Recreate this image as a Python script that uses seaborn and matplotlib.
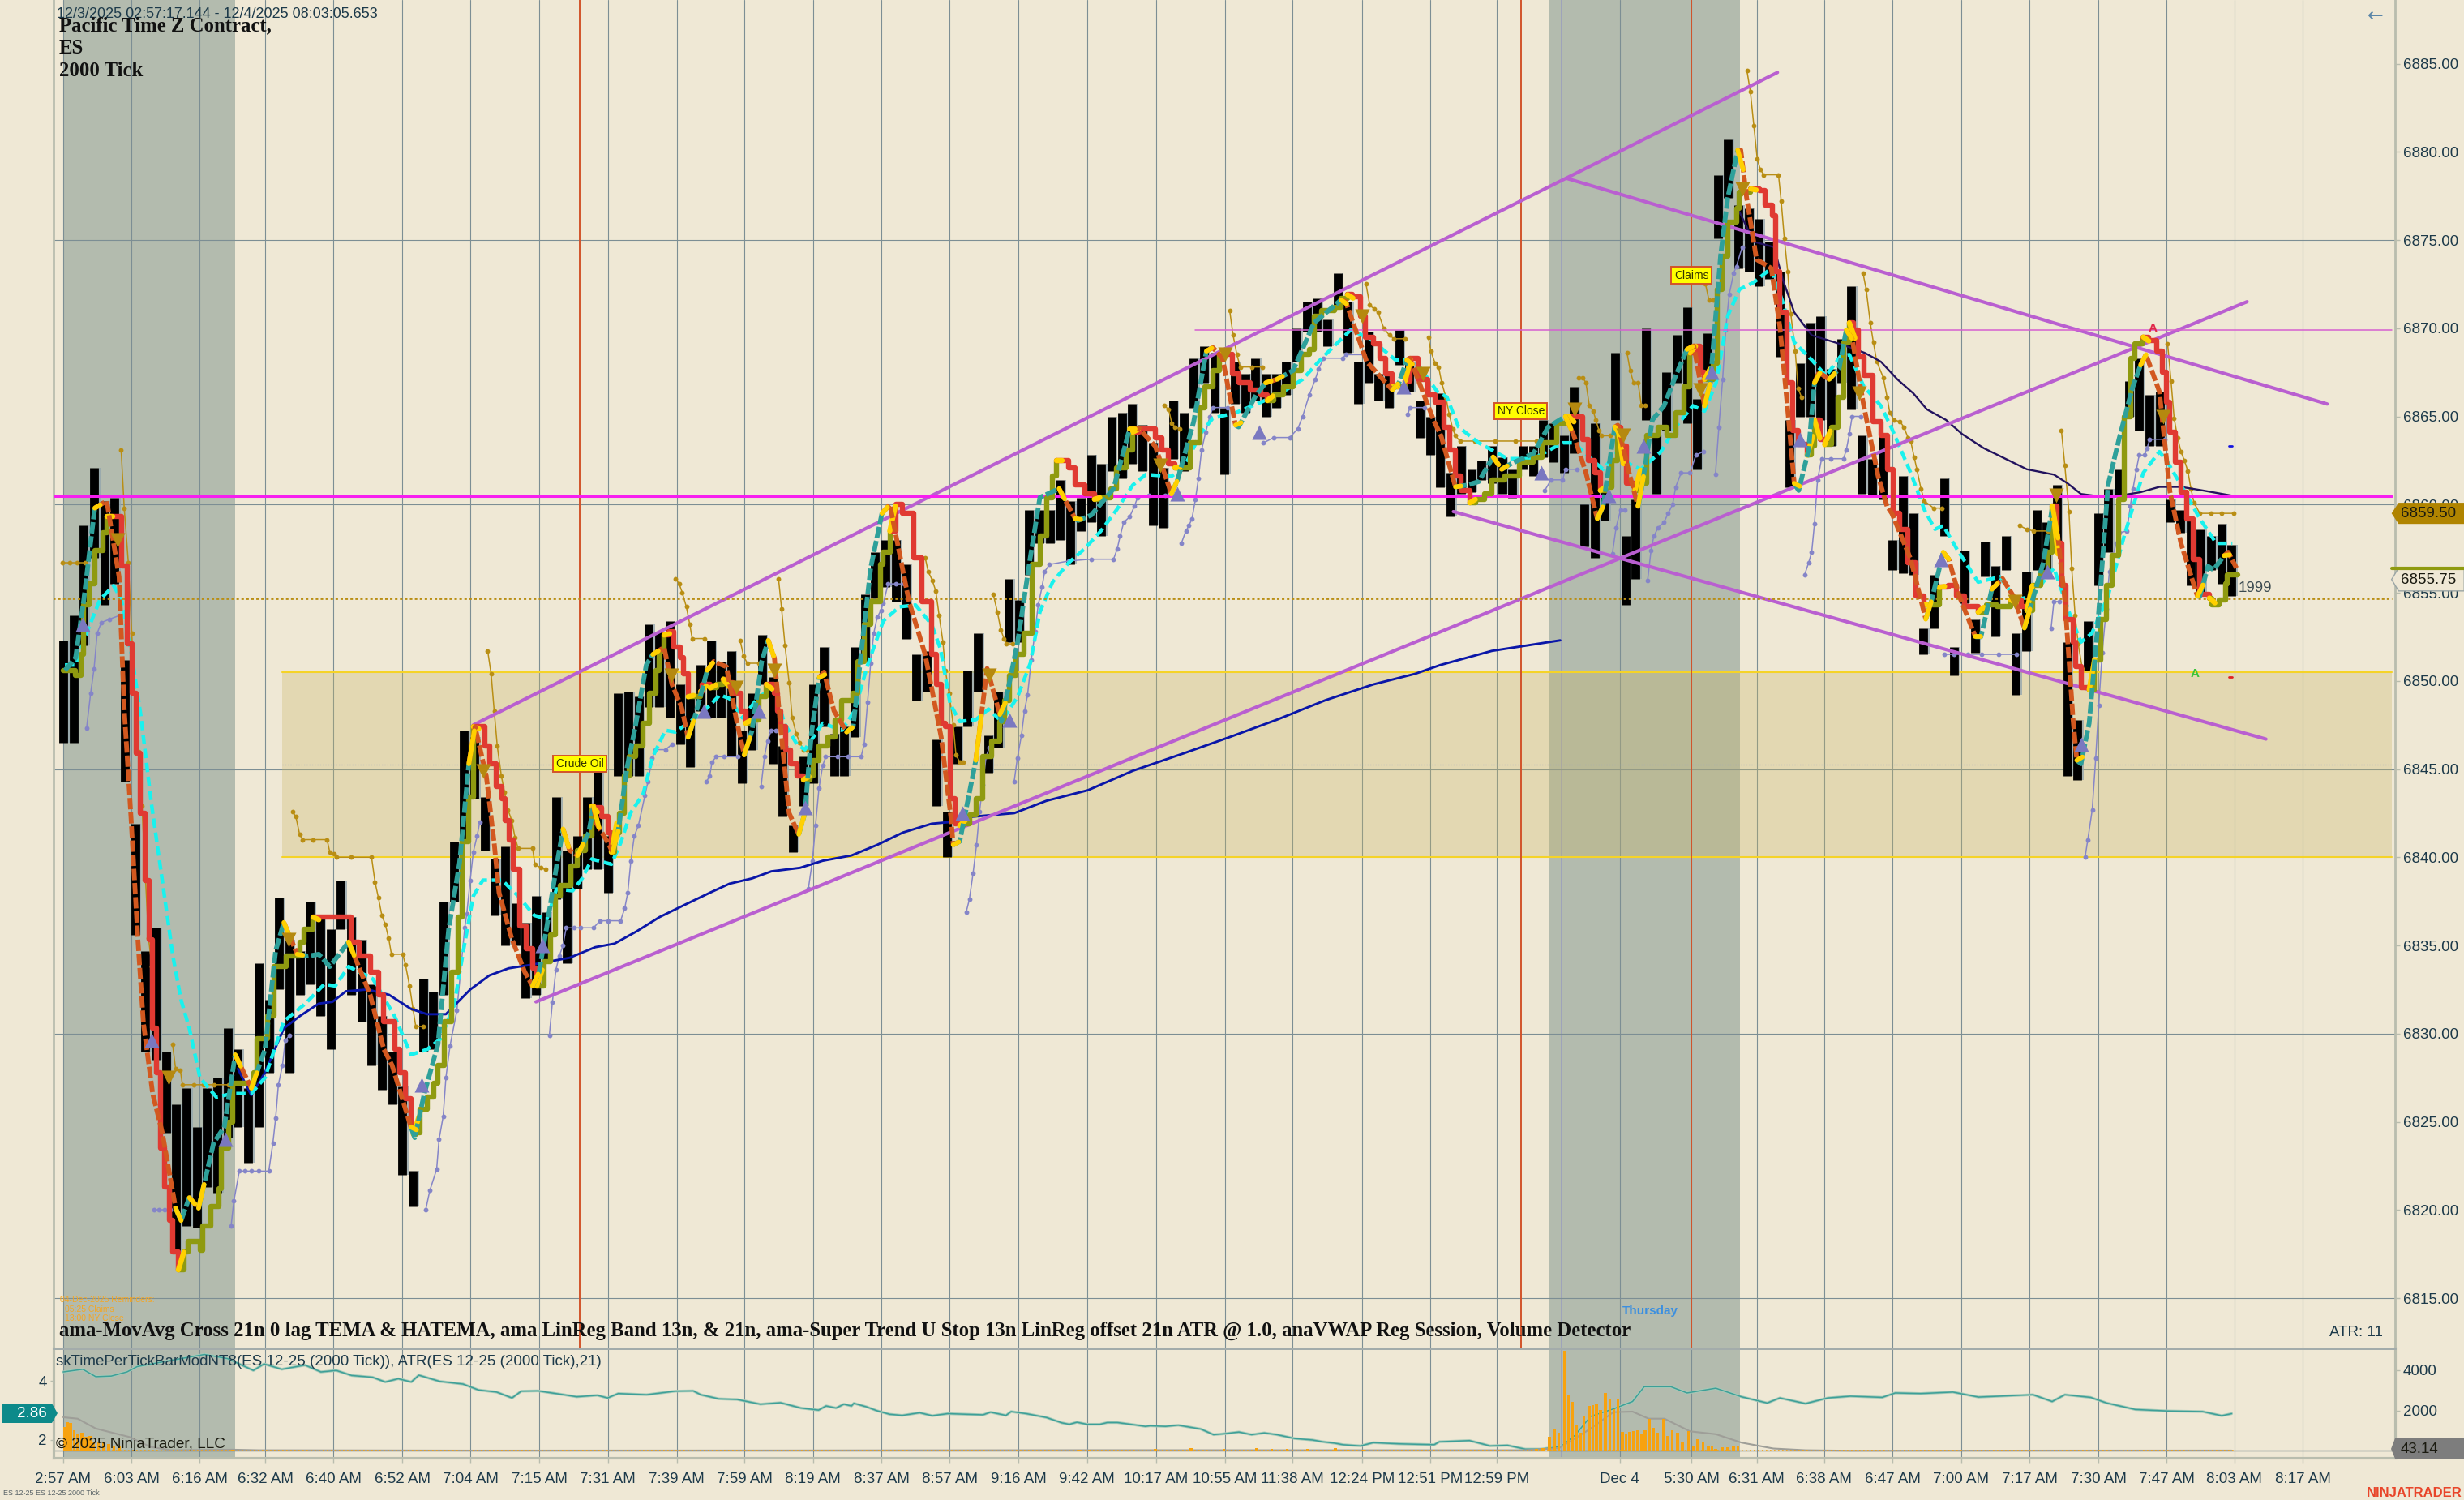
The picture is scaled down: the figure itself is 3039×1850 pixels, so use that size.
import numpy as np
import seaborn as sns
from matplotlib import pyplot as plt
from matplotlib.patches import Polygon

W, H = 3039, 1850

# candles, one block for every 3 bars of the chart
high_a = [6852.3,6853.7,6858.8,6862.1,6860.2,6860.4,6851.2,6841.9,6834.7,6836,6829,6826,6826.9,6824.7,6826.9,6827.5,6830.3,6829.1,6826.9,6834,6831.9,6837.7,6835.3,6834.7,6837.5,6836.6,6835.9,6838.7,6836.6,6835.3,6832.8,6831,6829,6827,6822.2,6833.1,6832.4,6837.5,6840.9]
low_a = [6846.5,6846.5,6852,6857,6854.3,6855.5,6844.3,6835.6,6829,6828.5,6824.4,6817.6,6819.1,6819,6821.3,6821,6824.1,6824.7,6822.7,6824.7,6827.8,6832.5,6827.8,6832.2,6832.8,6831,6829.1,6835.9,6832.2,6830.7,6828.2,6826.8,6826,6822,6820.2,6829,6829.1,6832.2,6837.5]
high_b = [6847.2,6846.8,6843.4,6839.9,6840.6,6837.4,6836.3,6837.8,6836.9,6843.4,6840.4,6841.2,6843.4,6844.9,6841.2,6849.3,6849.4,6849.1,6853.2,6852.8,6853.4,6849.8,6849.1,6850.9,6852.3,6851.1,6851.7,6847.2,6849.3,6852.6,6850.2,6846.3,6841.8,6845.7,6849.8,6851.9,6847,6847.4,6851.9,6854.9,6857.3,6858,6858,6856.6,6851.5,6851.7]
low_b = [6841,6843.3,6840.4,6836.7,6835,6835,6832,6832.2,6834.2,6837.6,6834,6838.2,6839.3,6839.3,6838,6844.6,6844.6,6844.6,6848.5,6848.5,6847.9,6846.4,6845.1,6848.3,6847.9,6847.9,6845.7,6844.2,6846.1,6849.8,6845.3,6842.3,6840.3,6842.9,6844.2,6847.4,6844.6,6844.6,6846.8,6851.1,6854.7,6855.3,6854.5,6852.4,6848.9,6849.4]
high_c = [6846.7,6842.6,6847.4,6850.6,6852.7,6846.9,6849.4,6855.8,6854.6,6859.7,6859.7,6859.7,6861.4,6860.2,6860.4,6862.8,6862.3,6865,6865.2,6865.7,6864.5,6863.5,6862.1,6865.9,6865.2,6868.3,6869,6868.6,6865.5,6868.1,6867.4,6868.3,6867.4,6867.4,6868.1,6870,6871.5,6871.7,6870.5,6873.1,6871.5,6868.1,6869.8,6867.4,6867.4,6869.9,6868.1,6865.9,6865]
low_c = [6842.9,6840,6845.3,6847.4,6849.4,6844.8,6846.2,6852.2,6852.2,6856,6857.8,6857.8,6858,6856.6,6858.5,6859,6858.2,6861.9,6861.5,6862.3,6861.9,6858.8,6858.7,6862.6,6861.9,6865.5,6866.9,6865.2,6861.7,6865.7,6865.2,6865.9,6865,6865.5,6866.2,6868.1,6869.8,6869.8,6869,6871.2,6868.6,6865.7,6866.9,6865.9,6865.5,6867.9,6866.4,6863.8,6862.8]
high_d = [6866.3,6861.8,6863.3,6862,6862.5,6863.3,6862.7,6862,6863.3,6863.3,6864.8,6864.6,6863.9,6866.7,6860,6864.6,6860.8,6868.6,6858.2,6860.3,6870,6863.9,6867.5,6869.6,6871.2,6866,6869.7,6878.7,6880.7,6877,6876.8,6876.2,6874.9,6873.2,6864.8,6868,6870.3,6870.7,6867.7,6869.4,6872.4,6863.9]
low_d = [6861,6859.3,6860.6,6860.7,6861.4,6861.2,6860.6,6860.4,6862,6861.6,6862.7,6862.4,6861.8,6862.9,6857.6,6857,6859.1,6864.8,6854.3,6855.8,6864.8,6860.6,6864.2,6866.9,6864.6,6862,6867.3,6875.1,6877.4,6873.4,6873.2,6872.4,6872.8,6868.4,6861,6865,6865,6864.8,6863.3,6866.9,6865.4,6860.6]
high_e = [6862.6,6863.9,6858,6861.6,6859.5,6853,6856,6861.5,6851.9,6857.4,6853.5,6857.9,6856.5,6858.2,6852.7,6856.2,6859.7,6859,6861.1,6852.2,6847.8,6853.4,6859.5,6860.9,6862,6867,6868.3,6866.2,6866.4,6860.3,6859.7,6859.2,6858.6,6858.2,6858.9,6857.7]
low_e = [6860.5,6860.3,6856.3,6856.1,6856,6851.5,6853,6858.2,6850.3,6854.4,6851.6,6855.9,6852.5,6856.3,6849.2,6851.7,6856.3,6856.3,6857.8,6844.6,6844.4,6850.6,6855.4,6857.3,6860.5,6865,6864.2,6863.3,6863.3,6859,6858.4,6855.4,6855,6856.3,6855.5,6854.8]

# stepped band, olive and red by turn
band_x = [0,3.6,5.2,6,7.6,9.2,11.6,12.8,15,17,18.6,20,21.4,22.6,23.8,25,26,27.3,28.5,29.7,30.9,32,33.6,35.2,36.4,39.9,40.7,43,45.4,46.2,48.2,49.4,55.7,56.5,59.6,61.6,65.2,69.1,70.3,73,73.5,84.1,86.5,89.6,92,93.6,96.7,98.3,99.9,101.5,102.2,103,104.2,106.2,108.2,109.4,111.3,113.3,115.3,116.5,118.4,119.7,121.1,123,124.4,126.3,128.1,129.1,130.2,131.4,133.3,135.1,137,138.2,138.9,140.3,142.2,143.6,145,148.2,150.1,152.5,154.3,154.8,157.1,159,160,160.9,162.3,163.7,165.1,167,169.3,171.2,173,174,175.4,176.8,178.2,180,181,182.4,183.3,186.1,186.6,188.9,190.8,192.7,193.6,195.5,197.8,199.2,201.1,203,205.3,206.2,207.6,208.6,209.5,210.9,212.3,214.2,216.1,217.9,218.9,220.7,223.1,225.4,227.3,230.6,232,233.8,235.7,238.5,239.4,241.3,243,245,248.3,250.7,253.5,254.9,256.3,257.5,258.9,260.3,261.7,262.6,264.5,266.4,268.3,271.1,273.4,274.8,276.2,278.1,280.4,282.8,285.1,287,288.8,290,291.6,293.5,295.4,298.2,301,302.9,305.7,307.5,310.4,312.2,314.1,317.8,318.8,320.6,322.5,324.4,326.3,329.1,331.9,333.3,335.6,337.5,339.8,341.2,343.1,346.4,349.6,351.5,353.4,356.2,359,361.3,363.7,365.1,367.4,371.2,373,374.9,376.3,378.6,380,382.4,384.3,386.1,388,389.9,391.7,393.1,395.5,398.3,400.5,403,404.7,406.4,408.1,410.6,412.3,414.9,417,420.8,425,429.2,431.8,436,439.4,440.2,443.6,445.3,447,448.7,450.4,452.1,453.8,454.6,456.3,458.8,459.7,462.2,465.6,468.1,470.7,473.2,474.9,476.6,477.8,479.1,481.6,482.9,484.2,485.9,488.4,489.3,492.6,495.2,496.9,499,499.8,501.1,503.2,504.9,506.6,509.1,510.4,511.2,512.9,514.2,516.3,518,519.7,521.4,522.6,523.9,525.6,528.3,530.6,532.6,534.2,536.2,538.5,540.9,543.3,545.6,547.6,550.4,552.7,555.1,559,561.4,564.6,568.5,571.7,573.2,574.8,577.2,579.5,580.7,581.9,583.5,584.7,586.7,587.4,589,591.4,593,594.9,596.5,598.1,600,601.6,603.6,604.8,607.2,608.7,611.1,612.7,613.9,615,616.6,618.2,619.8,621.8,623.7,626.5,627.3,629.3,631.2,631.6,634.8]
band_y = [6850.6,6850.3,6851.5,6854.3,6855.5,6857.4,6858.4,6859.3,6859.3,6856.5,6852.1,6849.3,6845.9,6842.5,6838.7,6835.3,6830.3,6827.8,6823.5,6821.3,6819.4,6817.6,6816.6,6817.6,6818.2,6817.7,6819.1,6820.2,6821.2,6823.5,6825,6827.2,6827.8,6829.7,6831,6833.8,6834.4,6835.2,6835.9,6836.6,6836.6,6835.2,6834.4,6833.5,6832.2,6830.7,6829.1,6827.8,6826.3,6824.7,6824.3,6824.4,6825.7,6826.4,6827.2,6828.2,6830.7,6833.5,6836.6,6840.9,6843.4,6847.4,6847.4,6846.3,6845.3,6844,6843.3,6842.1,6841,6839.3,6836.1,6834.8,6833.7,6832.7,6832.7,6834.1,6835.6,6837.8,6838.4,6839.5,6840.4,6841.2,6842.9,6842.8,6842.3,6841.4,6840.3,6841.4,6842.5,6844.6,6845.7,6846.3,6847.6,6849.3,6850.6,6851.7,6852.6,6852.8,6851.9,6851.3,6850.4,6849.1,6849.1,6849.4,6849.8,6849.6,6849.8,6850.1,6849.9,6849.3,6848.3,6847.6,6847.8,6849.1,6849.8,6849.8,6849.3,6848.3,6847.4,6846.1,6845.3,6844.6,6844.4,6844.6,6845.5,6846.3,6846.8,6847.8,6848.9,6849.3,6851.1,6853.2,6854.5,6856.6,6857.3,6858.5,6860,6859.5,6857,6854.5,6851.5,6849.8,6847.6,6847.4,6843.3,6841.9,6841.8,6841.9,6842.4,6843.3,6845.7,6846.6,6847.7,6848.9,6850.3,6851.5,6852.7,6856.6,6858.2,6860.4,6861.6,6862.5,6862.5,6862.1,6861.1,6860.6,6860.3,6860.4,6860.9,6862.1,6863.1,6864.1,6864.3,6864.3,6863.8,6863.1,6862.3,6862.1,6862.1,6863.5,6865.5,6866.7,6867.6,6868.5,6868.5,6867.4,6866.9,6866.5,6866.2,6865.9,6866.2,6866.7,6867.6,6868.5,6868.8,6870.7,6871,6871.2,6871.7,6871.9,6871.8,6870.7,6869.5,6869.1,6868.3,6867.4,6866.7,6866.7,6867,6868.3,6867.1,6866.2,6865.8,6864.4,6863.1,6861.6,6860.8,6860.1,6860.3,6860.6,6861.4,6861.6,6862.4,6862.7,6863.5,6864.6,6865,6865,6863.7,6862.5,6861.8,6860.8,6861,6862.5,6864.4,6863.3,6861.2,6860.8,6861.2,6863.9,6864.4,6863.9,6865.2,6866.7,6868.6,6869,6867.5,6867.1,6868,6872.2,6874.1,6876,6876.8,6877.7,6877.9,6877.8,6877,6876.4,6873.2,6870.9,6866.9,6864.2,6863.4,6862.8,6863.3,6864.8,6863.7,6863.4,6864.4,6866.1,6869.2,6870.3,6869.9,6868.4,6867.3,6864.7,6863.9,6862,6859.5,6858.6,6856.7,6854.8,6854.3,6854.3,6855.3,6855.4,6854.8,6854.2,6853.9,6854.3,6854.2,6854.6,6854.2,6854,6855.4,6856.1,6857.3,6859.9,6857.8,6855.4,6853.5,6852.2,6850.8,6849.6,6849.5,6851.2,6853.5,6855.4,6857.1,6860.3,6865,6868.3,6869.1,6869.5,6869.3,6868.7,6867.5,6865.8,6864.1,6862.4,6860.7,6859.2,6856.9,6854.9,6854.7,6854.3,6854.6,6855.5,6856,6856]
band_turns = [15,35.2,73.5,103,121.1,138.9,154.8,160.9,176.8,183.3,186.6,190.8,193.6,201.1,206.2,217.9,243,262.6,291.6,302.9,314.1,326.3,339.8,353.4,376.3,389.9,393.1,412.3,440.2,450.4,454.6,459.7,476.6,481.6,495.2,510.4,512.9,516.3,522.6,545.6,550.4,561.4,571.7,574.8,581.9,593,608.7,627.3]

# dashed fast line, teal and orange by turn
fast_x = [0.5,3.6,6,9.2,12.7,16.3,17.8,19.8,21.8,23.4,26.1,28.9,32.8,34.4,36.8,39.5,43.9,47,50.2,54.9,58.9,62,64.4,68.3,71.5,74.6,77.8,83.3,89.6,93.6,96,101.5,102.6,105.4,109.4,112.5,115.7,118.4,120.2,123.5,125.8,127.2,130.9,134.7,137,138.9,141.2,144,145.9,147.8,150.1,153.4,154.8,155.7,158.5,160.4,161.8,164.6,167,170.2,172.1,175.4,177.7,180.5,182.4,184.3,188,189.9,193.6,196.4,198.8,201.1,203.9,205.8,207.6,209.5,211.9,214.7,216.5,218.4,220.7,222.1,225,228.7,230.6,233.4,235.7,239,241.3,246.9,251.6,256.3,259.1,259.8,261.7,266.4,269.7,273.4,273.9,278.6,282.3,285.1,290.7,295.4,296.3,300.1,306.6,311.3,314.1,318.8,323.5,325.3,330,333.7,335.6,338.4,342.2,343.1,348.2,351,354.3,359,365.1,373,374.4,380.5,388,389.9,392.2,393.1,400.2,402.2,406.4,409.8,413.2,417.4,419.9,422.5,429.2,433.5,438.5,441,444.5,447.8,449.5,452.9,453.8,457.1,459.7,460.5,463.9,467.3,470.7,474,476,479.1,480.8,483.8,485.9,488.8,489.7,491.4,494.3,498.6,501.1,503.2,505.3,506.6,509.5,511.2,512.5,515.5,518.4,520.5,522.2,525.6,529.8,532.4,533.8,539.3,543.7,545.2,548.8,550.4,553.5,558.2,559.8,563,566.1,569.3,572.5,574,578,580.7,581.5,584.3,586.7,587.8,589,591.4,593.8,596.9,600.1,604,606.4,608,611.9,615,618.2,623,623.7,626.1,627.7,630.8,632,634.4]
fast_y = [6850.6,6851.3,6854.6,6859.8,6860.2,6855.9,6848.4,6842.2,6835.3,6830.6,6826.6,6824.4,6820.1,6819.4,6820.7,6820.1,6823.8,6824.7,6828.8,6826.9,6829.1,6834.7,6836.3,6834.5,6834.4,6834.5,6833.8,6835.2,6832.2,6829.1,6828.2,6824.7,6824.1,6826.6,6829.4,6835.9,6839.7,6845.3,6847.4,6844.6,6840.8,6838,6835.4,6833.5,6832.7,6833.5,6836.1,6839.5,6841.6,6840.4,6840.1,6841.4,6842.9,6841.9,6841,6840.3,6841.2,6845.1,6847.4,6850.9,6851.5,6851.9,6849.8,6848.5,6846.8,6847.9,6850.6,6851.1,6850.8,6847.9,6845.8,6847.2,6851.1,6852.3,6851.3,6847.2,6842.5,6841.3,6842.5,6847,6850.2,6850.5,6848.3,6847.1,6847.4,6852.4,6856.4,6859.5,6860,6854.5,6851.5,6846.8,6842.3,6840.7,6840.9,6845.5,6850.7,6848.1,6847.7,6852.2,6857,6860.4,6860.9,6859.2,6859.1,6859.4,6860.9,6864.3,6864.3,6863.3,6860.6,6861.4,6864.7,6868.7,6868.9,6868.3,6864.5,6864.4,6866.2,6866.9,6867.1,6867.6,6870.3,6871.6,6871.5,6868.1,6866.5,6866.9,6868.2,6868.3,6864.7,6863.9,6861,6861.1,6861.3,6862.7,6862,6862.3,6862.9,6864.4,6865,6863.9,6861.8,6859.2,6859.9,6864.4,6864.5,6861.8,6859.9,6860.6,6864.8,6865.6,6867.3,6868.8,6869,6865.6,6866.9,6874.1,6877.4,6880.1,6880.1,6877.4,6873.9,6873.4,6870.1,6865.8,6861.2,6860.8,6863.1,6866.9,6867.5,6867.1,6867.7,6869.9,6869.4,6865.6,6861.6,6859.9,6859.5,6856.9,6853.5,6854.4,6857.3,6856.9,6854.8,6852.5,6852.5,6855.2,6855.8,6854.8,6853,6854,6856.7,6859.9,6859.5,6854.6,6847.8,6845.5,6845.3,6847.6,6852.9,6861.1,6863.7,6866.6,6867.9,6868.5,6866.4,6860.7,6857.8,6854.8,6854.8,6856.5,6856.3,6857.1,6857.3,6856.4]
fast_turns = [12.7,34.4,39.5,43.9,54.9,58.9,68.3,71.5,89.6,102.6,120.2,138.9,147.8,153.4,155.7,161.8,175.4,184.3,189.9,201.1,207.6,216.5,222.1,230.6,241.3,261.7,269.7,273.9,295.4,296.3,314.1,325.3,335.6,343.1,354.3,359,374.4,389.9,393.1,409.8,419.9,422.5,441,449.5,453.8,460.5,476,480.8,489.7,506.6,512.5,518.4,522.2,545.2,550.4,559.8,566.1,574,581.5,589,608,623.7,632]

# cyan average
slow_x = [0.5,3.6,6.8,10.7,14.7,17,20.2,22.6,25.7,28.9,32,34.4,36.8,39.9,44.7,49.4,54.9,58.9,64.4,70.7,76.2,79.4,83.3,90.4,96.7,101.5,106.2,110.1,114.1,116.9,119.7,122.5,128.1,132.8,137.5,141.2,144,148.7,151.5,154.3,160,162.7,165.6,169.3,172.1,175.8,178.6,182.4,187.1,191.7,194.5,198.3,203,207.6,210.5,214.2,216.5,221.7,227.3,231,234.8,239.4,244.1,248.8,253.5,256.1,258.9,261.7,266.4,270.1,273.9,278.6,282.3,285.1,288.8,293.5,298.2,302.9,307.5,312.2,316,323.5,327.2,331.9,335.6,342.2,349.6,355.3,361.8,367.4,375.8,381.5,388.9,394.5,401.1,403.9,407.3,413.2,421.6,429.2,437.7,441.1,445.3,449.5,453.8,457.1,460.5,466.4,470.7,475.7,479.1,482.5,485.9,489.3,493.5,498.6,501.9,505.3,510.4,514.6,518.8,521.4,525.6,530.6,533.8,539.3,543.3,546.4,548.8,552.7,559,565.3,570.1,574.8,581.1,585.9,589,592.2,596.9,601.6,607.2,611.9,614.3,618.2,623.7,628.5,633.2]
slow_y = [6850.9,6850.9,6852.7,6854.6,6855.4,6854.6,6851.2,6848.1,6843.1,6838.7,6834.4,6831.9,6830.3,6827.5,6826.4,6826.6,6826.6,6827.5,6830.7,6831.7,6832.8,6832.7,6833.8,6833.1,6831,6828.8,6829.1,6829.7,6831.6,6834.8,6837.8,6838.7,6838.7,6837.8,6836.7,6836.5,6838.2,6838.1,6838.8,6839.9,6839.6,6840.8,6842.5,6843.6,6845.7,6847.2,6847.1,6847.6,6848.3,6849.2,6849,6847.9,6849.1,6849.6,6847.6,6846.4,6846.1,6847.6,6847.2,6848.3,6850.9,6853.4,6854.2,6854.3,6853.2,6851.8,6848.7,6847.7,6847.8,6848.4,6847.7,6849.1,6851,6853.9,6855.6,6856.7,6857.5,6858.5,6859.7,6861.1,6861.7,6861.6,6862.1,6864,6864.9,6865.2,6865.8,6866.3,6867.1,6868.3,6869.9,6869.4,6868.2,6868.2,6866.4,6866.1,6864.4,6863.5,6862.6,6862.6,6863.5,6863.5,6862.7,6862,6863,6862.3,6862,6863,6864.4,6865.6,6865.3,6866.9,6870.7,6872.2,6872.6,6873.4,6871.5,6869.2,6868.2,6867.3,6868.4,6868.5,6866.7,6865.6,6864.3,6861.8,6859.7,6858.6,6858.8,6857.5,6855.6,6855.9,6854.6,6854.8,6856.4,6853.7,6852.2,6852.7,6854.8,6858.2,6861.8,6863,6862.4,6861.1,6859.2,6857.8,6857.8]

# session VWAP lines
vwap_x = [51,54.9,58.9,64.4,69.1,74.6,78.6,82.5,88.8,95.1,101.5,106.2,111.7,118.8,124.4,130,136.6,142.2,147.8,155.3,160.9,167.4,174,181.4,188.9,194.5,201.1,206.7,215.1,221.7,230.1,237.6,245.1,253.5,259.1,265.5,277.6,287,299.1,312.2,327.2,340.3,354.3,368.4,382.4,394.6,402,417,437]
vwap_y = [6828,6826.5,6827.8,6830.3,6831,6831.7,6831.8,6832.4,6832.5,6832.2,6831.4,6831.1,6831.1,6832.5,6833.3,6833.7,6833.9,6834.1,6834.3,6834.9,6835.1,6835.8,6836.6,6837.3,6838,6838.5,6838.8,6839.2,6839.4,6839.8,6840.1,6840.7,6841.4,6841.9,6842,6842.3,6842.5,6843.2,6843.8,6844.9,6845.9,6846.8,6847.8,6848.9,6849.8,6850.4,6850.9,6851.7,6852.3]
vwap2_x = [489.3,493.5,499.4,501.9,505.3,510.4,518.8,525.9,530.6,535.4,540.1,544,549.6,554.3,560.6,566.9,573.2,581.1,585.1,589,593,600.1,606.4,611.9,618.2,624.5,633.2]
vwap2_y = [6876.6,6874.9,6874.6,6872.8,6870.9,6869.6,6869.1,6868.6,6868.1,6867.1,6866.3,6865.4,6864.8,6864,6863.2,6862.6,6862,6861.7,6861.2,6860.6,6860.5,6860.5,6860.7,6861,6861,6860.8,6860.5]

# U stop dots below price
up_stops = [
    ([6.8,8,9,9.9,11.1,13.5,16.3],[6847.3,6849.3,6850.7,6852.7,6853.3,6853.5,6853.7]),
    ([26.5,28,29.5,31.2],[6820,6820,6820,6820]),
    ([49,49.8,51.4,53,55,57,60,61.2,62,62.8,64,64.8,66],[6819.1,6820.5,6822.2,6822.2,6822.2,6822.2,6822.2,6823.8,6825.2,6827.1,6828.2,6829.6,6829.9]),
    ([105.8,107,109,109.7,110.9,111.7,112.9,114.9,117.2,117.8,118.8,119.7,120.8,121.6],[6820,6821.1,6822.3,6824,6825.3,6827.5,6829.3,6831.3,6836,6836.8,6838.7,6840.3,6841.2,6842]),
    ([141.9,142.8,143.8,144.8,145.9,146.8,149,151,154.8,156.7,159,162.7,163.9,164.8,165.7,166.7,167.9,169.8,170.7,171.9,172.8,175.8,177.7],[6829.9,6831.8,6833.6,6834.4,6835,6836,6836,6836,6836,6836.4,6836.4,6836.4,6837.1,6838,6839.8,6841.2,6841.8,6843.5,6844.3,6845.6,6846.1,6846.1,6846.4]),
    ([187.8,188.7,189.4,190.6,193,196.9],[6844.3,6844.6,6845.4,6845.7,6845.7,6845.7]),
    ([203.7,204.7,205.6,206.7,208.1],[6844,6845.7,6846.6,6847.2,6847.2]),
    ([217.5,218.7,219.6,220.6,221.7,222.6,226,229,232.9,233.8,234.8,235.7,236.6,237.6,238.7,239.4,240.8,243,245.5],[6838.2,6839.8,6841.8,6843.9,6845.2,6845.7,6845.7,6845.7,6845.7,6846.4,6848.8,6851,6852.7,6853.6,6854,6854.4,6855.5,6855.5,6855.5]),
    ([263.6,264.5,265.6,266.6,267.5,268.4,269.4,270.3],[6836.9,6837.6,6839.1,6840.7,6842.6,6844.1,6845.7,6846.2]),
    ([277.6,278.5,279.7,280.6,281.5,282.6,283.7,284.6,285.7,286.5,287.9,293.5,300,306.6,307.7,308.5,309.6,311.3,312.7,313.6,317,321.6],[6844.3,6845.6,6846.9,6848.3,6849.2,6851.2,6852.8,6854.3,6855.3,6856.2,6856.6,6856.8,6856.9,6856.9,6857.5,6858.2,6859,6859.3,6859.9,6860.4,6860.5,6860.5]),
    ([326.4,327.7,328.6,329.5,330.5,331.4,332.3,333.5,334.7,335.6,339.8],[6857.8,6858.5,6858.8,6859.2,6860.3,6861.5,6863.1,6864.1,6865,6865.5,6865.5]),
    ([350.4,353.4,358,360.4,361.8,363.7,365.5,366.5,367.9,373.5,374.4,379.6],[6863.5,6863.8,6863.8,6864.3,6865,6866.2,6867.1,6867.7,6868.3,6868.3,6868.5,6868.5]),
    ([392.5,393.1,397.3],[6865.1,6865.5,6865.5]),
    ([432.5,434.3,437.7,438.5,441.9],[6860.8,6861.4,6861.4,6862,6862]),
    ([452.2,453.3,454.6,455.9],[6857.2,6858.7,6859.7,6859.7]),
    ([462.5,463.5,464.3,465.6,467.3,468.5,469.8,470.7,472.3,474.9,476.6,478.7],[6855.7,6857.4,6858.2,6858.7,6859,6859.5,6860,6861,6861.8,6861.8,6862.8,6863]),
    ([482.3,483.3,484.4,485.3,486.3,487.6,488.4,490.1],[6861.7,6864.4,6867.1,6869.9,6871.9,6873.1,6873.5,6874.6]),
    ([508.3,509.5,510.4,511.2,512.1,513.3,516,519.7,520.5,521.4,522.2,524.8],[6856,6856.7,6857.3,6858.9,6861.4,6862.6,6862.6,6862.6,6863.1,6864,6865,6865]),
    ([549.2,552,556,560,565,570.1],[6851.5,6851.5,6851.5,6851.5,6851.5,6851.5]),
    ([580.3,581.1,582.7],[6853,6854.5,6854.5]),
    ([590.2,591,592.3,593.3,594.2,595.2,596.4,597.3,598.3,599.3,600.2,602.4,603.4,604.2,605.2,606,607.6,608.3,609.1,613.5],[6840,6841,6842.7,6845.6,6848.6,6851.6,6854.1,6856.2,6857.1,6857.8,6858.4,6858.5,6859.9,6860.9,6862,6862.8,6862.8,6863.2,6863.7,6863.7]),
]

# U stop dots above price
down_stops = [
    ([-0.3,2,4,6.4],[6856.7,6856.7,6856.7,6856.7]),
    ([16.9,17.8,19,20,20.8,22,23,23.9,24.9,25.9],[6863.1,6859.8,6856.7,6852.7,6849.7,6846,6842.9,6839.2,6835.4,6833.8]),
    ([31.9,32.8,34.2,34.8,38,41,44,48.2],[6829.4,6828,6827.9,6827.1,6827.1,6827.1,6827.1,6827.1]),
    ([66.9,67.9,69,69.9,73,77,77.8,79,79.8,84,90,91,92,93,94,95,95.8,99.1,99.9,101.1,102.1,102.9,105],[6842.6,6842.3,6841.3,6841,6841,6841,6840.3,6840.2,6840,6840,6840,6838.6,6837.7,6836.7,6836.2,6835.4,6834.5,6834.5,6833.9,6832.7,6831.4,6830.4,6830.4]),
    ([123.9,124.9,125.8,126.7,127.9,128.8,129.8,130.9,131.9,132.8,137,137.7,139.4,140.8],[6851.7,6850.4,6848.3,6846.3,6844.6,6843.7,6842.7,6842.1,6841.1,6840.5,6840.5,6839.6,6839.4,6839.3]),
    ([178.8,179.8,180.7,181.9,182.9,183.6,187.1],[6855.8,6855.5,6855,6854.2,6853.2,6852.4,6852.4]),
    ([197.6,198.6,199.7,203],[6852.3,6851.4,6851,6851]),
    ([208.8,209.7,210.7,211.9,212.8,214,215,216.1,217],[6855.8,6854.1,6852,6849.9,6847.9,6847,6846.5,6846.1,6846.1]),
    ([251.6,252.5,253.7,254.7,255.7,256.8,257.5,258.6,259.8,260.6,261.7,262.8],[6857,6856.2,6855.7,6855.1,6853.7,6852.2,6850.6,6849.3,6847.5,6845.8,6845.4,6845.4]),
    ([271.5,272.7,273.7,274.6,275.3,277.1],[6854.9,6853.9,6852.9,6852.4,6852.1,6852.1]),
    ([321.4,322.7,323.6,324.6,325.8],[6865.6,6865.4,6864.6,6864.4,6864.3]),
    ([340.5,341.5,342.6,343.6,347,350.1],[6871,6869.6,6868.5,6867.8,6867.8,6867.8]),
    ([380.3,381.4,382.6,383.8,385.5,387.1,388.5,391.7],[6872.5,6871.3,6871.1,6870.9,6870,6869.6,6869.4,6869.4]),
    ([398.5,399.2,400.5,401.5,402.4,403.6,404.6,405.6,406.4,407.7,412,418,424,430.1],[6869.5,6868.7,6868,6867.8,6866.9,6866.1,6865.1,6864.3,6863.9,6863.6,6863.6,6863.6,6863.6,6863.6]),
    ([442.3,443.6,444.5,445.5,446.6,447.4,448.3,449.1,451.6],[6867.2,6867.2,6866.9,6865.6,6865.3,6864.8,6864.2,6863.9,6863.9]),
    ([456.5,457.4,458.4,459.7,460.7,461.8],[6868.6,6867.6,6866.9,6866.9,6865.6,6865.6]),
    ([479.4,480.4,481.6],[6872.5,6871.6,6871.6]),
    ([491.5,492.5,493.5,494.5,495.4,496.4,500.7,501.5,502.4,503.4,504.3,505.6,506.4,507.4],[6884.6,6883.4,6881.5,6879.6,6879,6878.7,6878.7,6877.2,6875.1,6873.2,6870.8,6868.7,6866.6,6866.1]),
    ([525.4,526.3,527.5,528.4,529.4,531.3,532.4,533.2,534.4,536.2,537.3,538.5,539.3,540.3,541.1,542.3,543.3,546,548.4],[6873.1,6872.2,6870.3,6869.2,6868.1,6867.2,6866.1,6865.2,6864.8,6864.7,6864.4,6863.8,6863.6,6862.7,6862,6860.9,6860.2,6859.8,6859.8]),
    ([571.1,573.2,575.2,579.5],[6858.8,6858.6,6858.5,6858.5]),
    ([583.3,584.3,585.5,586.3,587.3,588.2,589.4],[6864.2,6862.2,6859.6,6856.4,6853.7,6852.1,6850.7]),
    ([614.3,615.3,616.2,617.2,618.2,619.2,620.2,621.1,622,623.7,627,630,633.6],[6869.1,6867,6864.9,6863.8,6863,6862.5,6861.9,6860.9,6860.1,6859.5,6859.5,6859.5,6859.5]),
]

# swing signal triangles
up_tri_x = [5.6,25.7,47.4,104.6,139.8,186.9,203.1,216.5,262.5,276.2,325.3,349.2,391.3,431.4,451.2,461.2,481.2,507,548.1,579.2,589]
up_tri_y = [6853.2,6829.6,6824,6827.1,6835,6848.3,6848.3,6842.8,6842.5,6847.8,6860.6,6864.1,6866.7,6861.8,6860.5,6863.3,6867.5,6863.7,6856.9,6856.2,6846.4]
down_tri_x = [15.9,30.7,65.8,122.5,177.5,196.4,207.5,270.3,320.2,339.2,379.1,396.9,441.1,455.3,477.8,490.1,524.3,569.7,581.8,612.9]
down_tri_y = [6858,6827.5,6835.3,6844.9,6850.3,6849.6,6850.6,6850.3,6862.2,6868.5,6870.7,6867.4,6865.4,6863.9,6866.5,6877.9,6866.3,6854.5,6860.5,6865]

# drawn channels, (x0, x1), (y0, y1)
channels = [
    ((119.7,500.4),(6847.5,6884.5)),
    ((138,637.5),(6831.8,6871.5)),
    ((438.8,660.9),(6878.5,6865.7)),
    ((405.8,643),(6859.6,6846.7)),
]

tick_bars = [0,19.9,39.8,59,78.9,99,118.9,139,159,179.1,198.9,218.9,238.9,258.8,278.9,298.9,319,339.1,358.9,379.1,399.1,418.5,454.4,475.3,494.4,514,534,554,574,594.1,614,633.8,653.8]
tick_labels = ['2:57 AM','6:03 AM','6:16 AM','6:32 AM','6:40 AM','6:52 AM','7:04 AM','7:15 AM','7:31 AM','7:39 AM','7:59 AM','8:19 AM','8:37 AM','8:57 AM','9:16 AM','9:42 AM','10:17 AM','10:55 AM','11:38 AM','12:24 PM','12:51 PM','12:59 PM','Dec 4','5:30 AM','6:31 AM','6:38 AM','6:47 AM','7:00 AM','7:17 AM','7:30 AM','7:47 AM','8:03 AM','8:17 AM']
price_ticks = [6815,6820,6825,6830,6835,6840,6845,6850,6855,6860,6865,6870,6875,6880,6885]
event_bars = [150.8,425.5,475.3]

# lower panel
atr_x = [0,5.7,9.5,14,18.6,21.6,29.9,41.2,48,55.5,58.6,63.8,70.6,75.2,79.7,84.2,90.3,94,97.8,101.6,103.8,109.9,116.7,121.2,126.5,131,133.7,138.6,146.1,149.9,155.9,158.9,162,170.3,178.6,183.9,186.1,191.4,196.7,203.5,209.4,215.3,220.5,222.7,225.6,227.9,230.1,230.8,234.5,237.5,241.2,244.9,250,253.7,258.2,268.5,270.7,275.2,276.7,281.1,287,291.5,293.7,295.9,298.9,302.6,304.8,307.7,312.9,315.9,317.3,321.8,325.5,332.1,335.8,338.8,343.2,346.9,350.6,354.3,359.5,364.7,367.6,371.3,373.6,378.7,382.4,389.8,400.2,401.7,410.5,416.5,421.6,426.8,431.3,437.2,441.3,445.9,452.5,458.1,461.5,469.3,474,482.4,489.9,497.4,501.1,508.6,515.1,521.7,531,534.8,542.2,551.6,559.1,575,580.6,584.3,591.8,596.5,604.9,614.2,624.5,630.1,633]
atr_y = [4.3,4.39,4.14,4.16,4.3,4.48,4.66,4.89,4.75,4.35,4.57,4.39,4.53,4.3,4.35,4.18,4.12,3.96,4.07,3.96,4.19,3.98,3.89,3.69,3.62,3.42,3.65,3.66,3.53,3.46,3.51,3.42,3.57,3.53,3.65,3.66,3.53,3.39,3.37,3.21,3.26,3.08,3.01,3.15,3.08,3.21,3.15,3.24,3.12,2.99,2.87,2.83,2.92,2.82,2.89,2.85,2.94,2.83,2.96,2.89,2.76,2.58,2.53,2.6,2.53,2.53,2.59,2.59,2.51,2.46,2.48,2.46,2.5,2.37,2.18,2.21,2.27,2.18,2.24,2.18,2.05,2,1.94,1.89,1.84,1.8,1.91,1.87,1.84,1.94,1.98,1.8,1.82,1.69,1.69,1.78,2.16,2.8,3.05,3.3,3.8,3.8,3.59,3.75,3.46,3.25,3.42,3.23,3.42,3.48,3.44,3.59,3.57,3.62,3.45,3.53,3.3,3.53,3.44,3.25,3.03,2.98,2.96,2.82,2.89]
pace_x = [0,4.2,9.5,19.3,25.4,31.4,49.5,57,120,210,300,380,426,436.6,441.3,445.9,452.5,458.1,462.8,467.4,474.9,482.4,489.9,499.2,508.6,521.7,580,633]
pace_y = [1682,1612,1126,709,222,56,83,56,40,45,60,55,55,153,640,1126,1932,1960,1612,1612,987,848,431,139,56,30,40,43]
vol_x = [0.5,1.2,2.1,3.2,4.2,5.4,6.6,7.8,8.8,10.3,11.8,13.3,14.8,16.3,49.5,296.6,299.6,318.8,329.2,338.8,348.4,352.8,357.3,363.2,371.3,375,379.5,430,431.9,433.8,435.3,436.6,438.3,439.4,440.5,441.6,442.8,443.9,445.4,446.5,447.6,448.7,450.2,451.5,452.7,453.8,455.1,456.2,457.3,458.5,459.6,460.7,461.8,463.1,464.3,465.4,467.1,468.4,469.7,471.2,472.7,474.4,476,477.2,478.7,480.2,481.3,482.4,484.3,485.8,487.6,488.9]
vol_y = [1195,1445,1404,1056,848,917,709,778,500,500,500,361,222,292,70,85,85,125,153,111,153,125,139,111,153,97,83,111,153,709,1126,917,4948,2794,2446,1265,917,1751,2238,2280,2307,2029,2891,2585,2099,2585,945,848,945,987,1056,889,1056,1612,1167,917,1612,778,1056,917,431,987,292,612,473,222,292,111,181,181,292,222]

SANS = ['Liberation Sans', 'DejaVu Sans']
SERIF = ['Liberation Serif', 'DejaVu Serif']
INK = '#1d3a4a'
BG = '#efe8d5'
GRID = '#7c8e94'
EDGE = '#b9bdae'
SESSION = '#b3bbae'


def draw_line(ax, x, y, **kws):
    sns.lineplot(x=x, y=y, ax=ax, estimator=None, sort=False, errorbar=None, legend=False, **kws)


def split_turns(x, y, turns):
    # cut a series where its colour flips, keep the joint point in both pieces
    x = np.array(x)
    y = np.array(y)
    edges = [0] + [int(np.searchsorted(x, t)) for t in turns] + [len(x)]
    return [(x[max(a - 1, 0):b], y[max(a - 1, 0):b]) for a, b in zip(edges[:-1], edges[1:])]


def draw_flip(ax, sx, sy, lw, zorder):
    # short yellow mark where the series changes colour
    end = sx[0] + 1.6
    draw_line(ax, [sx[0], end], [sy[0], np.interp(end, sx, sy)], color='#ffd000', lw=lw, zorder=zorder)


sns.set_theme(style='white', rc={'axes.facecolor': BG, 'figure.facecolor': BG})
plt.rcParams['font.family'] = SANS

fig = plt.figure(figsize=(W / 100, H / 100), dpi=100)
ax = fig.add_axes([66 / W, (H - 1663) / H, 2888 / W, 1663 / H])
low = fig.add_axes([66 / W, (H - 1798) / H, 2888 / W, 135 / H])
pace = low.twinx()

# sessions, zone and grid
for a in (ax, low):
    a.axvspan(0, 50.2, color=SESSION, lw=0, zorder=0.2)
    a.axvspan(433.6, 489.4, color=SESSION, lw=0, zorder=0.2)
    for t in tick_bars:
        a.axvline(t, color=GRID, lw=0.8, zorder=0.4)
    a.axvline(437.5, color='#9ea3bb', lw=1.4, zorder=0.4)
for p in [6815, 6830, 6845, 6860, 6875]:
    ax.axhline(p, color=GRID, lw=0.8, zorder=0.4)
ax.fill_between([63.8, 679.7], 6840, 6850.5, color='#cab664', alpha=0.3, lw=0, zorder=0.6)
for p in (6840, 6850.5):
    ax.plot([63.8, 679.7], [p, p], color='#f5d327', lw=1.5, zorder=1)
ax.plot([63.8, 679.7], [6845.25, 6845.25], color='#9aa4c8', lw=0.9, ls=':', zorder=1)
for b in event_bars:
    ax.axvline(b, color='#d2532a', lw=1.4, zorder=1)

# candles
bar_high = np.array(high_a + high_b + high_c + high_d + high_e)
bar_low = np.array(low_a + low_b + low_c + low_d + low_e)
bar_x = 3 * np.arange(len(bar_high))
ax.vlines(bar_x + 1.55, bar_low, bar_high, color='#93a5ad', lw=1.1, zorder=1.8, capstyle='butt')
ax.vlines(bar_x, bar_low, bar_high, color='black', lw=7.8, zorder=2, capstyle='butt')

# stops
for sx, sy in up_stops:
    draw_line(ax, sx, sy, color='#8585c8', lw=1.1, marker='o', markersize=4.2, markeredgewidth=0, zorder=3)
for sx, sy in down_stops:
    draw_line(ax, sx, sy, color='#b98e14', lw=1.1, marker='o', markersize=4.2, markeredgewidth=0, zorder=3)

draw_line(ax, vwap_x, vwap_y, color='#0a16a8', lw=2.1, zorder=3)
draw_line(ax, vwap2_x, vwap2_y, color='#22125e', lw=1.7, zorder=3)
draw_line(ax, slow_x, slow_y, color='#19f2ee', lw=3.2, linestyle=(0, (2.6, 1.3)), zorder=4)

# channels and levels
for cx, cy in channels:
    draw_line(ax, list(cx), list(cy), color='#b95fd0', lw=3, zorder=4.5)
ax.plot([-3, 679.7], [6860.47, 6860.47], color='#f71ef0', lw=2.2, zorder=4.5)
ax.plot([330.5, 679.7], [6869.9, 6869.9], color='#d65fd0', lw=1.1, zorder=4.5)
ax.plot([-3, 679.7], [6854.7, 6854.7], color='#b98e14', lw=2, ls=(0, (1.1, 1.1)), zorder=4.5)

# band and fast line, olive/red and teal/orange
for i, (sx, sy) in enumerate(split_turns(band_x, band_y, band_turns)):
    draw_line(ax, sx, sy, color='#8f9a10' if i % 2 == 0 else '#e03a32', lw=4.6, drawstyle='steps-post', zorder=5)
    if i > 0:
        draw_flip(ax, sx, sy, 4.6, 5.2)
for i, (sx, sy) in enumerate(split_turns(fast_x, fast_y, fast_turns)):
    draw_line(ax, sx, sy, color='#2ea09a' if i % 2 == 0 else '#d2581f', lw=4.2, linestyle=(0, (2.4, 0.6)), zorder=5.5)
    if i > 0:
        draw_flip(ax, sx, sy, 4.2, 5.6)

sns.scatterplot(x=up_tri_x, y=up_tri_y, marker='^', s=170, color='#7a78c0', linewidth=0, ax=ax, zorder=6, legend=False)
sns.scatterplot(x=down_tri_x, y=down_tri_y, marker='v', s=170, color='#b5890f', linewidth=0, ax=ax, zorder=6, legend=False)

ax.set_xlim(-2.84, 680.7)
ax.set_ylim(6812.15, 6888.61)
ax.yaxis.tick_right()
ax.set_yticks(price_ticks)
ax.set_yticklabels([f'{p:.2f}' for p in price_ticks])
ax.tick_params(axis='y', labelsize=13.5, colors=INK, length=4, width=1, color=EDGE, pad=3)
ax.set_xticks(tick_bars)
ax.tick_params(axis='x', bottom=False, labelbottom=False)
ax.set(xlabel='', ylabel='')
for s in ('top', 'bottom'):
    ax.spines[s].set_visible(False)
for s in ('left', 'right'):
    ax.spines[s].set_color(EDGE)
    ax.spines[s].set_linewidth(2)

# event flags
for b, p, label_text in [(150.8, 6845.3, 'Crude Oil'), (425.5, 6865.3, 'NY Close'), (475.3, 6873, 'Claims')]:
    ax.text(b, p, label_text, ha='center', va='center', fontsize=10, color='#333300', zorder=7,
            bbox=dict(boxstyle='square,pad=0.25', fc='#ffff00', ec='#d2532a', lw=1.4))

ax.text(622.2, 6850.4, 'A', color='#3bc43b', fontsize=11, fontweight='bold', ha='center', va='center', zorder=7)
ax.text(610, 6870, 'A', color='#e0284a', fontsize=11, fontweight='bold', ha='center', va='center', zorder=7)
ax.plot([632.1, 633.1], [6863.3, 6863.3], color='#1414e0', lw=2, zorder=7)
ax.plot([632.1, 633.1], [6850.2, 6850.2], color='#e02020', lw=2, zorder=7)
ax.text(635, 6855.25, '1999', color='#3b4a50', fontsize=13.5, ha='left', va='center', zorder=7)

# price tags, x in axes fraction, y in price
ty = ax.get_yaxis_transform()
ax.add_patch(Polygon([(0.9985, 6859.5), (1.0015, 6860.1), (1.0295, 6860.1), (1.0295, 6858.9), (1.0015, 6858.9)],
                     closed=True, transform=ty, fc='#b08400', ec='none', clip_on=False, zorder=8))
ax.text(1.0025, 6859.5, '6859.50', transform=ty, fontsize=13.5, color='#1a1a10', va='center', ha='left', zorder=9, clip_on=False)
ax.add_patch(Polygon([(0.9985, 6855.75), (1.0015, 6856.4), (1.0295, 6856.4), (1.0295, 6855.1), (1.0015, 6855.1)],
                     closed=True, transform=ty, fc=BG, ec='#9aa5a5', lw=1, clip_on=False, zorder=8))
ax.plot([0.9985, 1.0295], [6856.4, 6856.4], transform=ty, color='#8f9a10', lw=3, clip_on=False, zorder=8.5)
ax.text(1.0025, 6855.72, '6855.75', transform=ty, fontsize=13.5, color='#1a1a10', va='center', ha='left', zorder=9, clip_on=False)

# lower panel
draw_line(low, atr_x, atr_y, color='#a5cbb9', lw=2.4, zorder=2)
draw_line(low, atr_x, atr_y, color='#3d9f98', lw=1.1, zorder=2.1)
low.set_ylim(1.397, 5.096)
low.set_yticks([2, 4])
low.tick_params(axis='y', labelsize=13.5, colors=INK, length=3, width=1, color=EDGE, pad=3)
low.set_ylabel('')

sns.barplot(x=vol_x, y=vol_y, native_scale=True, color='#f7a20f', errorbar=None, saturation=1, width=1.2, linewidth=0, ax=pace, zorder=3)
draw_line(pace, pace_x, pace_y, color='#9e9e98', lw=1.5, zorder=2.5)
pace.axhline(43, color='#6e7f86', lw=1, zorder=2)
pace.plot([0, 634], [43, 43], color='#f7a20f', lw=1.2, ls=(0, (1, 2)), zorder=4)
pace.set_ylim(-320, 5080)
pace.set_yticks([2000, 4000])
pace.set_yticklabels(['2000', '4000'])
pace.tick_params(axis='y', labelsize=13.5, colors=INK, length=4, width=1, color=EDGE, pad=3)
pace.set_ylabel('')
pace.set_zorder(low.get_zorder() + 1)
pace.patch.set_visible(False)

pace.set_xlim(-2.84, 680.7)
low.set_xlim(-2.84, 680.7)
low.set_xticks(tick_bars)
low.set_xticklabels(tick_labels)
low.tick_params(axis='x', labelsize=13.5, colors=INK, length=4, width=1, color=EDGE, pad=9, bottom=True)
low.set_xlabel('')
pace.set_xlabel('')
for a in (low, pace):
    a.spines['top'].set_color('#a3acab')
    a.spines['top'].set_linewidth(2)
    for s in ('left', 'right', 'bottom'):
        a.spines[s].set_color(EDGE)
        a.spines[s].set_linewidth(2.2)

# overlay text, figure pixels
def label(px, py, text, **kws):
    fig.text(px / W, 1 - py / H, text, va='center', **kws)

label(70, 17, '12/3/2025 02:57:17.144 - 12/4/2025 08:03:05.653', fontsize=13, color=INK, zorder=10)
for py, text in [(32, 'Pacific Time Z Contract,'), (59, 'ES'), (87, '2000 Tick')]:
    label(73, py, text, fontsize=17.8, family=SERIF, color='#111111', fontweight='bold', zorder=10)
label(73, 1641, 'ama-MovAvg Cross 21n 0 lag TEMA & HATEMA, ama LinReg Band 13n, & 21n, ama-Super Trend U Stop 13n LinReg offset 21n ATR @ 1.0, anaVWAP Reg Session, Volume Detector',
      fontsize=17.85, family=SERIF, color='#111111', fontweight='bold', zorder=10)
for px, py, text in [(74, 1603, '04-Dec-2025 Reminders:'), (80, 1615, '05:25 Claims'), (80, 1626, '13:00 NY Close')]:
    label(px, py, text, fontsize=7.5, color='#f5a623', zorder=10)
label(2001, 1617, 'Thursday', fontsize=11, color='#3b8fe0', fontweight='bold', zorder=10)
label(2873, 1643, 'ATR: 11', fontsize=13.5, color=INK, zorder=10)
label(69, 1679, 'skTimePerTickBarModNT8(ES 12-25 (2000 Tick)), ATR(ES 12-25 (2000 Tick),21)', fontsize=13.5, color=INK, zorder=10)
label(69, 1781, '© 2025 NinjaTrader, LLC', fontsize=13.7, color='#1a1a10', zorder=10)
label(4, 1842, 'ES 12-25 ES 12-25 2000 Tick', fontsize=6.5, color='#5a6468', zorder=10)
fig.text(3037 / W, 1 - 1841 / H, 'NINJATRADER', ha='right', va='center', fontsize=12, color='#e8452a', fontweight='bold', zorder=10)
fig.text(2930 / W, 1 - 20 / H, '←', ha='center', va='center', fontsize=17, color='#5b86a8', family=['DejaVu Sans'], zorder=10)

# lower panel tags, figure pixels
def tag(points, fc, px, py, text, color):
    fig.patches.append(Polygon([(x / W, 1 - y / H) for x, y in points], closed=True, transform=fig.transFigure, fc=fc, ec='none', zorder=9))
    fig.text(px / W, 1 - py / H, text, fontsize=13.5, color=color, ha='left', va='center', zorder=10)

tag([(2, 1731), (64, 1731), (71, 1743), (64, 1755), (2, 1755)], '#0d8a8a', 21, 1744, '2.86', 'white')
tag([(2949, 1787), (2954, 1774), (3039, 1774), (3039, 1799), (2954, 1799)], '#7d7d7d', 2961, 1788, '43.14', '#1a1a10')

fig.savefig('out.png', dpi=100, facecolor=BG)
